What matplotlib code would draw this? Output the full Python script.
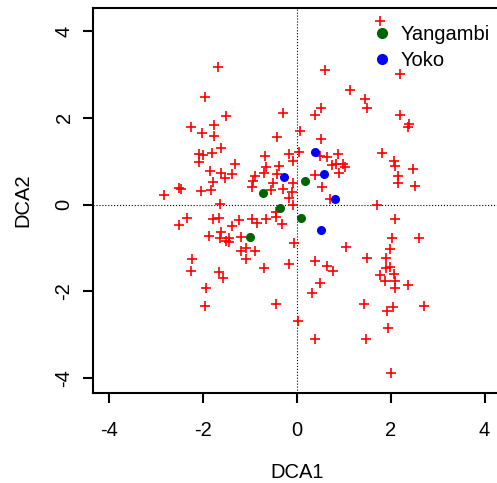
import matplotlib
matplotlib.use("Agg")
import matplotlib.pyplot as plt
from matplotlib.lines import Line2D

plt.rcParams['font.family'] = ['Liberation Sans', 'DejaVu Sans']
plt.rcParams['axes.unicode_minus'] = False

# DCA site scores (axis 1, axis 2)
site_x = [-1.68, -1.96, -1.51, -0.30, -2.26, -2.02, -1.77, -1.77, -0.43, -1.63,
          -2.10, -2.00, -1.82, -2.10, -0.68, -0.17, -0.09, -1.33, -0.66, -0.39,
          -1.85, -1.61, -1.38, -1.54, -1.79, -0.70, -0.89, -0.43, -0.93, -0.51,
          -0.97, -0.09, -0.30, -0.55, -0.11, -0.16, -2.84, -2.52, -2.47, -2.04,
          -1.83, -1.65,
          1.78, 0.60, 2.20, 1.12, 1.46, 1.49, 0.52, 0.38, 2.20, 2.38,
          2.36, 0.07, 0.52, 0.04, 0.48, 0.63, 0.87, 1.81, 2.07, 2.10,
          2.47, 0.75, 0.83, 0.99, 1.02, 0.89, 2.15, 2.15, 2.52, 0.38,
          0.53, 0.71, 1.71,
          -2.35, -2.52, -1.79, -1.66, -1.24, -1.38, -0.95, -0.85, -0.66, -0.45,
          -0.45, -0.33, -0.09, -1.88, -1.61, -1.65, -1.52, -1.45, -1.45, -1.19,
          -1.19, -1.08, -0.90, -1.09, -2.24, -2.26, -1.66, -1.58, -0.71, -0.16,
          -0.06, -1.93, -1.96, -0.45, 0.02,
          2.10, 2.03, 2.61, 1.05, 1.98, 0.38, 1.49, 1.89, 0.63, 0.77,
          1.90, 1.98, 1.78, 2.07, 1.87, 2.10, 2.10, 2.37, 0.50, 0.31,
          1.42, 2.04, 1.92, 2.70, 1.94, 0.39, 1.47, 2.00]
site_y = [3.17, 2.47, 2.05, 2.10, 1.78, 1.66, 1.84, 1.59, 1.56, 1.30,
          1.16, 1.15, 1.19, 0.98, 1.12, 1.17, 1.01, 0.93, 0.87, 0.88,
          0.78, 0.73, 0.70, 0.62, 0.53, 0.73, 0.65, 0.71, 0.55, 0.50,
          0.40, 0.50, 0.37, 0.33, 0.29, 0.15, 0.23, 0.38, 0.36, 0.32,
          0.33, 0.02,
          4.24, 3.10, 3.01, 2.64, 2.44, 2.23, 2.22, 2.06, 2.07, 1.86,
          1.79, 1.69, 1.51, 1.21, 1.11, 1.09, 1.17, 1.19, 1.00, 0.90,
          0.83, 0.92, 0.93, 0.94, 0.86, 0.72, 0.66, 0.50, 0.44, 0.69,
          0.41, 0.13, -0.01,
          -0.30, -0.46, -0.33, -0.30, -0.35, -0.49, -0.32, -0.43, -0.32, -0.28,
          -0.17, -0.45, 0.00, -0.73, -0.63, -0.77, -0.83, -0.76, -0.87, -0.74,
          -1.06, -0.99, -1.06, -1.26, -1.26, -1.53, -1.55, -1.69, -1.47, -1.37,
          -0.89, -1.92, -2.33, -2.30, -2.69,
          -0.33, -0.76, -0.76, -0.98, -1.02, -1.29, -1.23, -1.23, -1.42, -1.52,
          -1.46, -1.43, -1.62, -1.60, -1.77, -1.75, -1.92, -1.86, -1.81, -2.04,
          -2.30, -2.36, -2.46, -2.33, -2.84, -3.09, -3.09, -3.87]

# reference sites
yangambi_x = [-0.72, 0.17, -0.37, -1.00, 0.09]
yangambi_y = [0.26, 0.54, -0.07, -0.74, -0.30]
yoko_x = [-0.28, 0.39, 0.58, 0.80, 0.51]
yoko_y = [0.64, 1.22, 0.70, 0.12, -0.59]

fig = plt.figure(figsize=(4.97, 4.83), dpi=100)
ax = fig.add_axes([93 / 497, 90 / 483, 408 / 497, 385 / 483])

ax.axhline(0, color='black', lw=0.8, ls=':', zorder=1)
ax.axvline(0, color='black', lw=0.8, ls=':', zorder=1)

ax.plot(site_x, site_y, ls='none', marker='+', ms=7, mew=1.2, color='red', zorder=2)
ax.plot(yangambi_x, yangambi_y, ls='none', marker='o', ms=5.5, color='#006400', zorder=3)
ax.plot(yoko_x, yoko_y, ls='none', marker='o', ms=5.5, color='blue', zorder=3)

ax.set_xlim(-4.35, 4.35)
ax.set_ylim(-4.34, 4.53)
ax.set_xticks([-4, -2, 0, 2, 4])
ax.set_yticks([-4, -2, 0, 2, 4])
ax.tick_params(direction='out', length=7, width=1.5, labelsize=14.5)
ax.tick_params(axis='x', pad=13.5)
ax.tick_params(axis='y', pad=7)
for lab in ax.get_yticklabels():
    lab.set_rotation(90)
    lab.set_va('center')
for sp in ax.spines.values():
    sp.set_linewidth(1.5)

ax.set_xlabel('DCA1', fontsize=14.5, labelpad=16)
ax.set_ylabel('DCA2', fontsize=14.5, labelpad=16)

handles = [Line2D([], [], ls='none', marker='o', ms=7, color='#006400'),
           Line2D([], [], ls='none', marker='o', ms=7, color='blue')]
ax.legend(handles, ['Yangambi', 'Yoko'], loc='upper left', bbox_to_anchor=(0.65, 0.993),
          frameon=False, fontsize=14.5, handlelength=1.0, handletextpad=0.4,
          labelspacing=0.35, borderpad=0.2)

fig.savefig('out.png', dpi=100)
